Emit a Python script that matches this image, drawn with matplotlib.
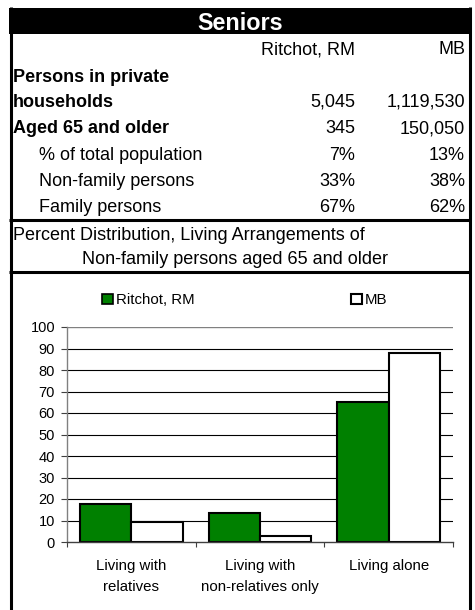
import matplotlib
matplotlib.use("Agg")
import matplotlib.pyplot as plt
from matplotlib.lines import Line2D
from matplotlib.patches import Rectangle, Patch
import numpy as np

plt.rcParams['font.family'] = ['Liberation Sans', 'DejaVu Sans']

# ---------------- data ----------------
title = "Seniors"
col_headers = ["Ritchot, RM", "MB"]
row_labels = ["Persons in private", "households", "Aged 65 and older",
              "% of total population", "Non-family persons", "Family persons"]
row_bold = [True, True, True, False, False, False]
row_indent = [False, False, False, True, True, True]
ritchot_vals = ["", "5,045", "345", "7%", "33%", "67%"]
mb_vals = ["", "1,119,530", "150,050", "13%", "38%", "62%"]
chart_title = ["Percent Distribution, Living Arrangements of",
               "Non-family persons aged 65 and older"]

categories = ["Living with\nrelatives", "Living with\nnon-relatives only", "Living alone"]
series_names = ["Ritchot, RM", "MB"]
ritchot_pct = [17.6, 13.4, 65.1]
mb_pct = [9.3, 2.8, 88.0]
y_ticks = [0, 10, 20, 30, 40, 50, 60, 70, 80, 90, 100]

# ---------------- figure ----------------
W, H = 475, 610
fig = plt.figure(figsize=(W / 100, H / 100), dpi=100)
fig.patch.set_facecolor("white")

def fx(x):
    return x / W

def fy(y):
    return 1 - y / H

def hline(y, x0=9, x1=471, lw=2.2, color="black"):
    fig.add_artist(Line2D([fx(x0), fx(x1)], [fy(y), fy(y)], transform=fig.transFigure,
                          color=color, lw=lw, solid_capstyle="butt"))

def vline(x, y0, y1, lw=2.2, color="black"):
    fig.add_artist(Line2D([fx(x), fx(x)], [fy(y0), fy(y1)], transform=fig.transFigure,
                          color=color, lw=lw, solid_capstyle="butt"))

# outer borders
vline(10.5, 7, 610)
vline(469.5, 7, 610)
# title bar
fig.add_artist(Rectangle((fx(9), fy(34)), fx(471) - fx(9), fy(8) - fy(34),
                         transform=fig.transFigure, facecolor="black", edgecolor="none"))
fig.text(fx(240), fy(30.5), title, color="white", fontsize=16.8, fontweight="bold",
         ha="center", va="baseline")

TFS = 13.0
# header row
fig.text(fx(355), fy(54.5), col_headers[0], fontsize=TFS, ha="right", va="baseline")
fig.text(fx(465), fy(54.5), col_headers[1], fontsize=TFS, ha="right", va="baseline")

row_base = [81.5, 106.5, 133, 160, 186, 211.5]
for lab, b, ind, v1, v2, yb in zip(row_labels, row_bold, row_indent, ritchot_vals, mb_vals, row_base):
    fig.text(fx(39 if ind else 13), fy(yb), lab, fontsize=TFS,
             fontweight="bold" if b else "normal", ha="left", va="baseline")
    if v1:
        fig.text(fx(355), fy(yb), v1, fontsize=TFS, ha="right", va="baseline")
    if v2:
        fig.text(fx(465), fy(yb), v2, fontsize=TFS, ha="right", va="baseline")

hline(219.5)
fig.text(fx(13), fy(239.5), chart_title[0], fontsize=TFS, ha="left", va="baseline")
fig.text(fx(82), fy(263.5), chart_title[1], fontsize=TFS, ha="left", va="baseline")
hline(271.5)

# ---------------- chart ----------------
ax = fig.add_axes([fx(67), fy(542), fx(453) - fx(67), fy(327) - fy(542)])
x = np.arange(len(categories))
bw = 0.4
ax.bar(x - bw / 2, ritchot_pct, width=bw, color="#008000", edgecolor="black", linewidth=1.5,
       zorder=3, label=series_names[0])
ax.bar(x + bw / 2, mb_pct, width=bw, color="white", edgecolor="black", linewidth=1.5,
       zorder=3, label=series_names[1])

ax.set_xlim(-0.5, len(categories) - 0.5)
ax.set_ylim(0, 100)
ax.set_yticks(y_ticks)
ax.set_yticklabels([str(t) for t in y_ticks], fontsize=10.5)
for t in y_ticks[1:-1]:
    ax.axhline(t, color="black", lw=0.8, zorder=1)
ax.axhline(100, color="#808080", lw=1.0, zorder=1)

for s in ["top", "right"]:
    ax.spines[s].set_visible(False)
ax.spines["left"].set_color("#808080")
ax.spines["left"].set_linewidth(1.0)
ax.spines["bottom"].set_color("#404040")
ax.spines["bottom"].set_linewidth(1.0)
ax.spines["bottom"].set_zorder(4)

ax.tick_params(axis="y", direction="out", length=4.3, width=0.8, color="#404040", pad=4.3)
ax.set_xticks(x)
ax.set_xticklabels(categories, fontsize=10.8, linespacing=1.65)
ax.tick_params(axis="x", which="major", length=0, pad=12)
ax.set_xticks(np.arange(-0.5, len(categories)), minor=True)
ax.tick_params(axis="x", which="minor", direction="out", length=3.6, width=0.8, color="#404040")

# legend entries
h1 = Patch(facecolor="#008000", edgecolor="black", linewidth=1.2)
h2 = Patch(facecolor="white", edgecolor="black", linewidth=1.5)
for h, name, xl in [(h1, series_names[0], 102), (h2, series_names[1], 351)]:
    fig.legend([h], [name], loc="center left", bbox_to_anchor=(fx(xl), fy(300)),
               frameon=False, fontsize=10.8, handlelength=0.7, handleheight=0.7,
               handletextpad=0.25, borderpad=0, borderaxespad=0)

fig.savefig("out.png", dpi=100, facecolor="white")
